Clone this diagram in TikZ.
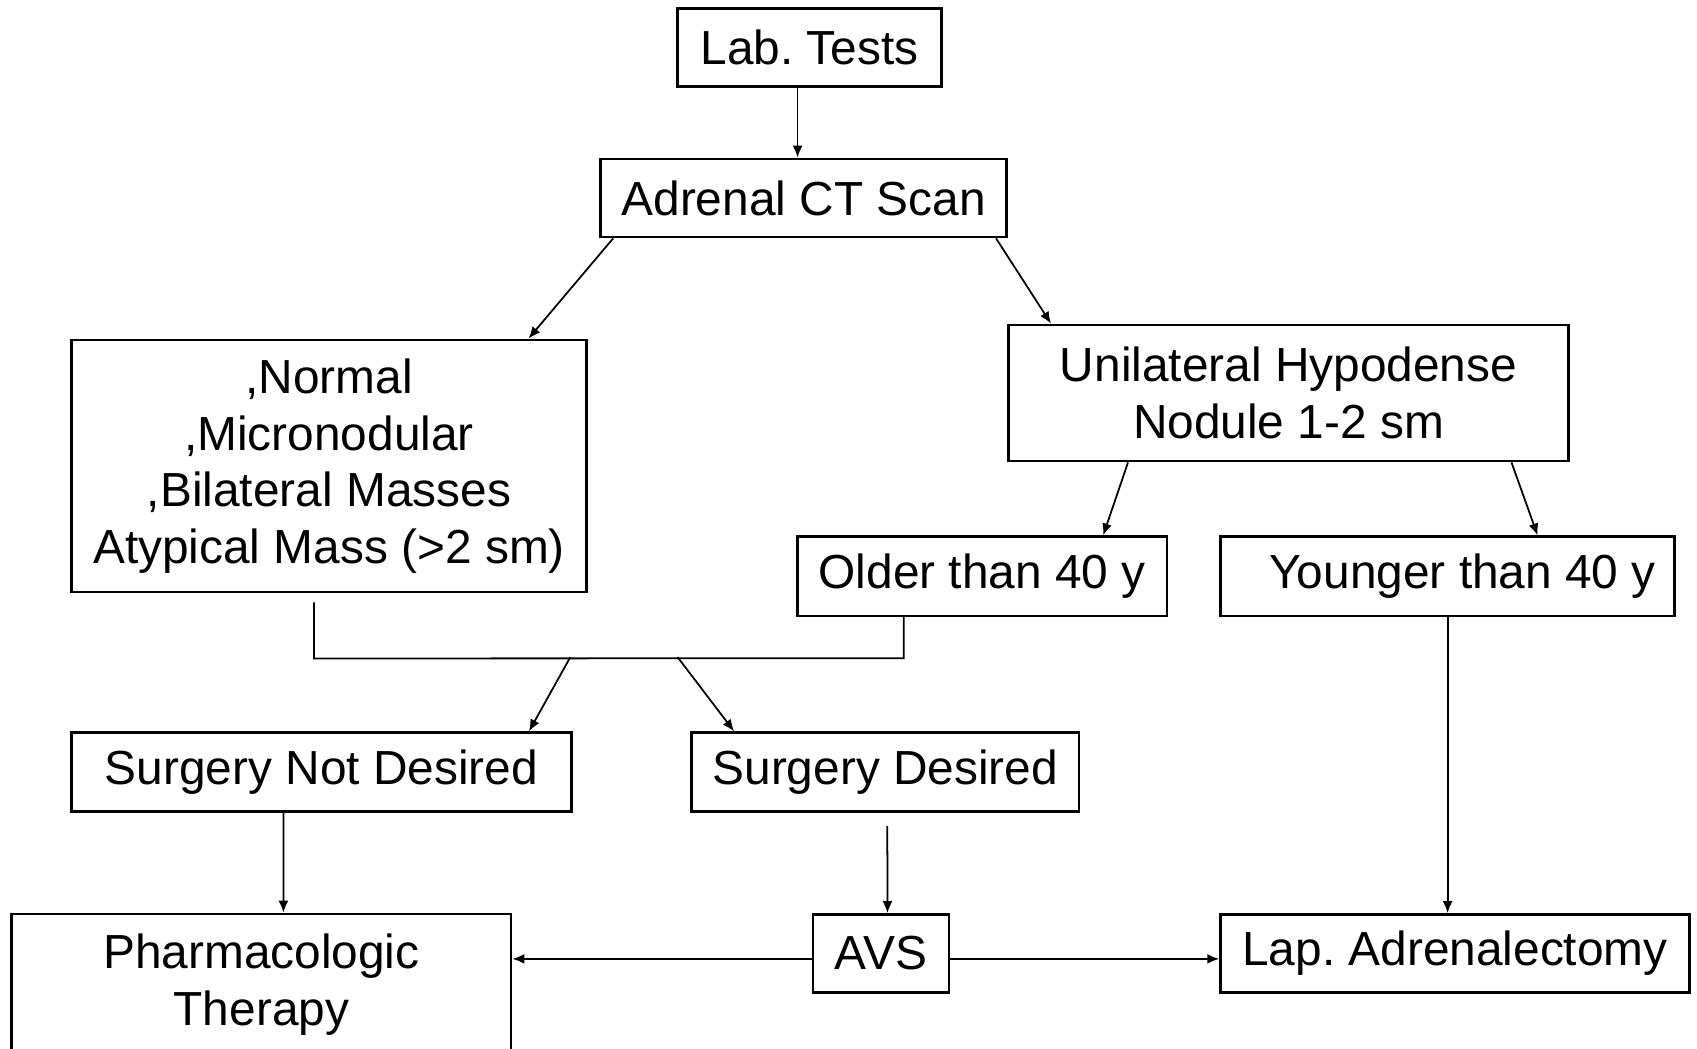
\documentclass[tikz,border=0pt]{standalone}
\usepackage{fontspec}
\setmainfont{Liberation Sans}
\frenchspacing
\usetikzlibrary{arrows.meta, positioning, calc}

\begin{document}
\begin{tikzpicture}[x=0.01cm, y=-0.01cm,
    box/.style={draw, line width=0.75pt, inner sep=0pt, align=center,
      font=\fontsize{13.6}{16.1}\selectfont},
    link/.style={-{Latex[length=3.4pt, width=2.8pt]}, line width=0.5pt},
    wire/.style={line width=0.5pt}]
  \useasboundingbox (0,0) rectangle (1697,1049);

  % Work-up
  \node[box, minimum width=2.64cm, minimum height=0.78cm] (lab) at (809.6,47.6) {Lab. Tests};
  \node[box, minimum width=4.06cm, minimum height=0.78cm] (ct) at (803.6,198) {Adrenal CT Scan};

  % CT findings
  \node[box, minimum width=5.15cm, minimum height=2.52cm] (normbox) at (329,466)
    {,Normal\\,Micronodular\\,Bilateral Masses\\Atypical Mass (>2 sm)};
  \node[box, minimum width=5.6cm, minimum height=1.36cm] (uni) at (1288.5,393)
    {Unilateral Hypodense\\Nodule 1-2 sm};

  % Age
  \node[box, minimum width=3.69cm, minimum height=0.79cm] (older) at (982.2,576.3) {Older than 40 y};
  \node[box, minimum width=4.535cm, minimum height=0.79cm] (younger) at (1447.6,576.3)
    {\hspace{0.3cm}Younger than 40 y};

  % Patient choice
  \node[box, minimum width=5cm, minimum height=0.79cm] (snd) at (321.5,772.2) {Surgery Not Desired};
  \node[box, minimum width=3.875cm, minimum height=0.79cm] (sd) at (885.3,772.2) {Surgery Desired};

  % Treatment
  \node[box, minimum width=4.99cm, minimum height=1.41cm] (pharm) at (261.4,984.5)
    {Pharmacologic\\Therapy};
  \node[box, minimum width=1.36cm, minimum height=0.78cm] (avs) at (881,953.5) {AVS};
  \node[box, minimum width=4.686cm, minimum height=0.78cm] (lap) at (1455,953.5) {Lap. Adrenalectomy};

  % Arrows from the top
  \draw[link] ($(lab.south)+(-12,0)$) -- ($(ct.north)+(-6,0)$);
  \draw[link] ($(ct.south west)+(14,0)$) -- ($(normbox.north east)+(-59.5,0)$);
  \draw[link] ($(ct.south east)+(-12,0)$) -- ($(uni.north west)+(44,0)$);
  \draw[link] ($(uni.south west)+(121,0)$) -- ($(older.north east)+(-65,0)$);
  \draw[link] ($(uni.south east)+(-58.5,0)$) -- ($(younger.north)+(90,0)$);

  % Joining line
  \coordinate (joinL) at ($(normbox.south)+(-15,65)$);
  \coordinate (joinR) at ($(older.south)+(-78.5,41.2)$);
  \draw[wire] ($(normbox.south)+(-15,9)$) -- (joinL) -- (joinR) -- ($(older.south)+(-78.5,0)$);
  \coordinate (forkL) at (570.4,657);
  \coordinate (forkR) at (677.5,657);
  \draw[link] (forkL) -- ($(snd.north east)+(-44,0)$);
  \draw[link] (forkR) -- ($(sd.north west)+(44,0)$);

  % Down to treatment
  \draw[link] ($(snd.south)+(-38,0)$) -- ($(pharm.north)+(22,0)$);
  \draw[link] ($(sd.south)+(2,13)$) -- ($(avs.north)+(6.5,0)$);
  \draw[link] (younger.south) -- (younger.south |- lap.north);

  % From AVS
  \coordinate (avsL) at ($(avs.west)+(0,5.4)$);
  \coordinate (avsR) at ($(avs.east)+(0,5.4)$);
  \draw[link] (avsL) -- (avsL -| pharm.east);
  \draw[link] (avsR) -- (avsR -| lap.west);
\end{tikzpicture}
\end{document}
